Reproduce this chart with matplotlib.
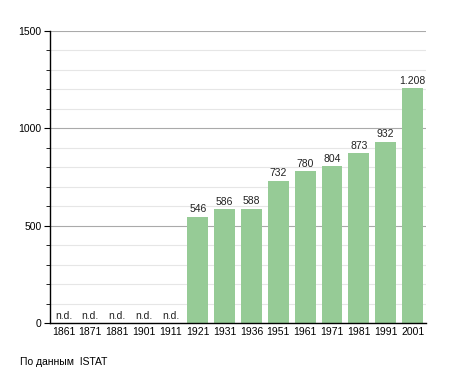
import matplotlib
matplotlib.use("Agg")
import matplotlib.pyplot as plt
from matplotlib.ticker import MultipleLocator

years = ["1861", "1871", "1881", "1901", "1911", "1921", "1931", "1936",
         "1951", "1961", "1971", "1981", "1991", "2001"]
population = [None, None, None, None, None, 546, 586, 588, 732, 780, 804, 873, 932, 1208]
value_labels = ["n.d.", "n.d.", "n.d.", "n.d.", "n.d.", "546", "586", "588",
                "732", "780", "804", "873", "932", "1.208"]
source_text = "По данным  ISTAT"

plt.rcParams['font.family'] = ['Liberation Sans', 'DejaVu Sans']

fig = plt.figure(figsize=(4.55, 3.73), dpi=100)
ax = fig.add_axes([50/455, 1 - 323/373, 376/455, (323-31)/373])

x = list(range(len(years)))
heights = [v if v is not None else 0 for v in population]
ax.bar(x, heights, width=0.78, color="#96cb96", zorder=2)

for xi, v, lab in zip(x, population, value_labels):
    if v is None:
        ax.text(xi, 8, lab, ha="center", va="bottom", fontsize=7.5, color="#222222")
    else:
        ax.text(xi, v + 12, lab, ha="center", va="bottom", fontsize=7.5, color="#222222")

ax.set_xlim(-0.5, len(years) - 0.5)
ax.set_ylim(0, 1500)
ax.set_xticks(x)
ax.set_xticklabels(years, fontsize=7.5)
ax.tick_params(axis="x", length=0, pad=3)
ax.yaxis.set_major_locator(MultipleLocator(500))
ax.yaxis.set_minor_locator(MultipleLocator(100))
ax.tick_params(axis="y", which="major", length=4, labelsize=7.5, pad=2)
ax.tick_params(axis="y", which="minor", length=3)
ax.grid(axis="y", which="major", color="#aaaaaa", linewidth=0.8, zorder=0)
ax.grid(axis="y", which="minor", color="#e6e6e6", linewidth=0.8, zorder=0)
ax.set_axisbelow(True)
for s in ["top", "right"]:
    ax.spines[s].set_visible(False)
ax.spines["left"].set_linewidth(1.0)
ax.spines["bottom"].set_linewidth(1.0)

fig.text(20/455, 1 - 362/373, source_text, fontsize=7.5, va="center", ha="left")

fig.savefig("out.png", dpi=100)
